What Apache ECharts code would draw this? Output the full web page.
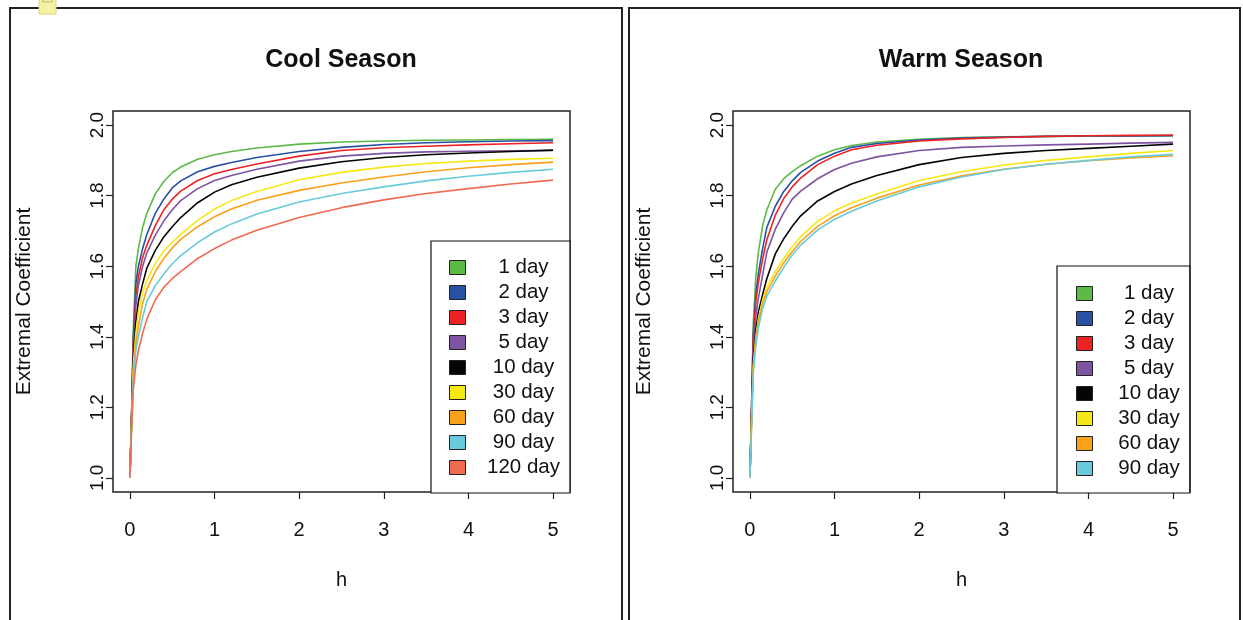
<!DOCTYPE html>
<html>
<head>
<meta charset="utf-8">
<script src="https://cdn.jsdelivr.net/npm/echarts@6/dist/echarts.min.js"></script>
<style>
  html, body { margin: 0; padding: 0; background: #fff; }
  #chart { width: 1243px; height: 620px; }
</style>
</head>
<body>
<div id="chart"></div>
<script>
// Distance h at which each curve is sampled
const H = [0, 0.02, 0.04, 0.07, 0.1, 0.15, 0.2, 0.3, 0.4, 0.5, 0.6, 0.8, 1.0, 1.2, 1.5, 2.0, 2.5, 3.0, 3.5, 4.0, 4.5, 5.0];

const xTicks = [0, 1, 2, 3, 4, 5];
const yTicks = [1.0, 1.2, 1.4, 1.6, 1.8, 2.0];

const coolNames = ['1 day', '2 day', '3 day', '5 day', '10 day', '30 day', '60 day', '90 day', '120 day'];
const warmNames = ['1 day', '2 day', '3 day', '5 day', '10 day', '30 day', '60 day', '90 day'];

// Cool season extremal coefficient by aggregation window
const cool1   = [1.00, 1.19, 1.42, 1.60, 1.65, 1.71, 1.75, 1.805, 1.84, 1.865, 1.881, 1.903, 1.916, 1.925, 1.935, 1.946, 1.952, 1.955, 1.957, 1.958, 1.959, 1.960];
const cool2   = [1.00, 1.18, 1.40, 1.55, 1.60, 1.65, 1.69, 1.75, 1.79, 1.822, 1.842, 1.868, 1.883, 1.894, 1.908, 1.925, 1.937, 1.945, 1.950, 1.953, 1.955, 1.956];
const cool3   = [1.00, 1.18, 1.38, 1.515, 1.57, 1.625, 1.66, 1.715, 1.76, 1.79, 1.813, 1.843, 1.862, 1.874, 1.890, 1.912, 1.928, 1.936, 1.940, 1.944, 1.947, 1.950];
const cool5   = [1.00, 1.17, 1.36, 1.49, 1.545, 1.60, 1.638, 1.688, 1.728, 1.76, 1.786, 1.82, 1.843, 1.857, 1.875, 1.898, 1.912, 1.920, 1.924, 1.926, 1.927, 1.928];
const cool10  = [1.00, 1.17, 1.34, 1.44, 1.50, 1.55, 1.595, 1.645, 1.683, 1.712, 1.738, 1.78, 1.81, 1.831, 1.852, 1.878, 1.896, 1.908, 1.916, 1.921, 1.925, 1.929];
const cool30  = [1.00, 1.16, 1.32, 1.41, 1.47, 1.525, 1.56, 1.608, 1.643, 1.668, 1.69, 1.73, 1.762, 1.786, 1.812, 1.845, 1.866, 1.881, 1.891, 1.898, 1.903, 1.906];
const cool60  = [1.00, 1.16, 1.30, 1.38, 1.43, 1.495, 1.535, 1.585, 1.622, 1.652, 1.676, 1.712, 1.740, 1.762, 1.787, 1.815, 1.836, 1.853, 1.868, 1.879, 1.888, 1.895];
const cool90  = [1.00, 1.15, 1.28, 1.36, 1.40, 1.455, 1.50, 1.545, 1.578, 1.607, 1.63, 1.667, 1.697, 1.72, 1.748, 1.782, 1.806, 1.825, 1.842, 1.855, 1.866, 1.875];
const cool120 = [1.00, 1.14, 1.25, 1.32, 1.36, 1.41, 1.45, 1.505, 1.54, 1.565, 1.585, 1.622, 1.65, 1.674, 1.702, 1.738, 1.766, 1.788, 1.806, 1.82, 1.833, 1.844];

// Warm season extremal coefficient by aggregation window
const warm1  = [1.00, 1.22, 1.44, 1.57, 1.64, 1.715, 1.76, 1.818, 1.848, 1.868, 1.885, 1.912, 1.93, 1.942, 1.952, 1.96, 1.965, 1.967, 1.968, 1.969, 1.969, 1.970];
const warm2  = [1.00, 1.20, 1.41, 1.52, 1.58, 1.65, 1.71, 1.77, 1.812, 1.842, 1.866, 1.898, 1.92, 1.937, 1.948, 1.958, 1.963, 1.966, 1.968, 1.969, 1.969, 1.970];
const warm3  = [1.00, 1.20, 1.40, 1.50, 1.555, 1.62, 1.675, 1.745, 1.792, 1.825, 1.85, 1.888, 1.912, 1.93, 1.943, 1.955, 1.961, 1.965, 1.968, 1.970, 1.971, 1.972];
const warm5  = [1.00, 1.19, 1.37, 1.46, 1.51, 1.575, 1.64, 1.705, 1.752, 1.79, 1.813, 1.848, 1.874, 1.892, 1.91, 1.928, 1.937, 1.941, 1.944, 1.946, 1.949, 1.951];
const warm10 = [1.00, 1.18, 1.34, 1.42, 1.47, 1.52, 1.565, 1.635, 1.678, 1.713, 1.743, 1.785, 1.812, 1.833, 1.857, 1.888, 1.908, 1.92, 1.928, 1.934, 1.94, 1.946];
const warm30 = [1.00, 1.17, 1.32, 1.40, 1.45, 1.505, 1.54, 1.585, 1.622, 1.655, 1.684, 1.727, 1.757, 1.779, 1.805, 1.843, 1.868, 1.887, 1.90, 1.91, 1.92, 1.928];
const warm60 = [1.00, 1.16, 1.31, 1.39, 1.44, 1.495, 1.528, 1.572, 1.61, 1.642, 1.67, 1.713, 1.743, 1.766, 1.793, 1.83, 1.856, 1.875, 1.889, 1.899, 1.907, 1.913];
const warm90 = [1.00, 1.15, 1.30, 1.375, 1.425, 1.48, 1.515, 1.558, 1.597, 1.632, 1.66, 1.703, 1.733, 1.756, 1.785, 1.825, 1.853, 1.874, 1.889, 1.90, 1.91, 1.917];

const coolValues = [cool1, cool2, cool3, cool5, cool10, cool30, cool60, cool90, cool120];
const warmValues = [warm1, warm2, warm3, warm5, warm10, warm30, warm60, warm90];

const COLORS = ['#5cb946', '#2851a3', '#ed2224', '#7e53a1', '#050505', '#f5e814', '#f9a11b', '#67cbdb', '#f06a50'];
const FONT = '"Liberation Sans", Arial, Helvetica, sans-serif';
const INK = '#111';

const chart = echarts.init(document.getElementById('chart'), null, { renderer: 'canvas' });

function curves(names, values, idx) {
  return names.map((name, i) => ({
    name: name,
    type: 'line',
    xAxisIndex: idx,
    yAxisIndex: idx,
    data: H.map((h, j) => [h, values[i][j]]),
    symbol: 'none',
    showSymbol: false,
    silent: true,
    lineStyle: { width: 1.6, color: COLORS[i], join: 'round' },
    itemStyle: { color: COLORS[i] }
  }));
}

function xAxisFor(idx) {
  return {
    gridIndex: idx, type: 'value', min: -0.2, max: 5.2,
    name: 'h', nameLocation: 'middle', nameGap: 78,
    nameTextStyle: { fontSize: 20, color: INK, fontFamily: FONT },
    axisLine: { show: false, onZero: false },
    splitLine: { show: false },
    axisTick: { show: true, customValues: xTicks, length: 7, lineStyle: { color: '#222', width: 1.2 } },
    axisLabel: { customValues: xTicks, margin: 28, fontSize: 20, color: INK, fontFamily: FONT }
  };
}

function yAxisFor(idx) {
  return {
    gridIndex: idx, type: 'value', min: 0.96, max: 2.04,
    name: 'Extremal Coefficient', nameLocation: 'middle', nameGap: 78, nameRotate: 90,
    nameTextStyle: { fontSize: 21, color: INK, fontFamily: FONT },
    axisLine: { show: false, onZero: false },
    splitLine: { show: false },
    axisTick: { show: true, customValues: yTicks, length: 7, lineStyle: { color: '#222', width: 1.2 } },
    axisLabel: {
      customValues: yTicks, rotate: 90, margin: 6, fontSize: 19, color: INK, fontFamily: FONT,
      formatter: v => Number(v).toFixed(1)
    }
  };
}

function legendFor(names, left, top, pad, textW) {
  return {
    data: names,
    orient: 'vertical',
    left: left, top: top,
    icon: 'rect',
    itemWidth: 16, itemHeight: 14, itemGap: 4,
    padding: pad,
    backgroundColor: '#fff',
    borderColor: INK, borderWidth: 1.2, borderRadius: 0,
    selectedMode: false,
    itemStyle: { borderColor: '#222', borderWidth: 1 },
    formatter: n => '{s|}{c|' + n + '}',
    textStyle: {
      fontSize: 20, color: INK, fontFamily: FONT,
      rich: {
        s: { width: 10 },
        c: { width: textW, align: 'center', fontSize: 20.5, color: INK, fontFamily: FONT }
      }
    }
  };
}

const option = {
  animation: false,
  backgroundColor: '#fff',
  title: [
    { text: 'Cool Season', left: 341, top: 48, textAlign: 'center', padding: 0,
      textStyle: { fontSize: 25, fontWeight: 'bold', color: INK, fontFamily: FONT } },
    { text: 'Warm Season', left: 961, top: 48, textAlign: 'center', padding: 0,
      textStyle: { fontSize: 25, fontWeight: 'bold', color: INK, fontFamily: FONT } }
  ],
  grid: [
    { left: 113, top: 111, width: 457, height: 381, show: true, borderColor: '#222', borderWidth: 1.5, backgroundColor: 'transparent', containLabel: false },
    { left: 733, top: 111, width: 457, height: 381, show: true, borderColor: '#222', borderWidth: 1.5, backgroundColor: 'transparent', containLabel: false }
  ],
  xAxis: [xAxisFor(0), xAxisFor(1)],
  yAxis: [yAxisFor(0), yAxisFor(1)],
  legend: [
    legendFor(coolNames, 431, 241, [16, 10, 15, 18], 86),
    legendFor(warmNames, 1057, 266, [17, 10, 14, 19], 83)
  ],
  graphic: [
    { type: 'rect', silent: true, z: 100, shape: { x: 10, y: 8, width: 612, height: 640 },
      style: { fill: 'none', stroke: '#222', lineWidth: 2 } },
    { type: 'rect', silent: true, z: 100, shape: { x: 629, y: 8, width: 611, height: 640 },
      style: { fill: 'none', stroke: '#222', lineWidth: 2 } },
    { type: 'rect', silent: true, z: 100, shape: { x: 39, y: -3, width: 17, height: 17 },
      style: { fill: '#f6f1a3', stroke: '#dcd47c', lineWidth: 1 } },
    { type: 'rect', silent: true, z: 101, shape: { x: 43, y: -3, width: 9, height: 5 },
      style: { fill: 'none', stroke: '#b9b48a', lineWidth: 1 } }
  ],
  series: curves(coolNames, coolValues, 0).concat(curves(warmNames, warmValues, 1))
};

chart.setOption(option);
</script>
</body>
</html>
